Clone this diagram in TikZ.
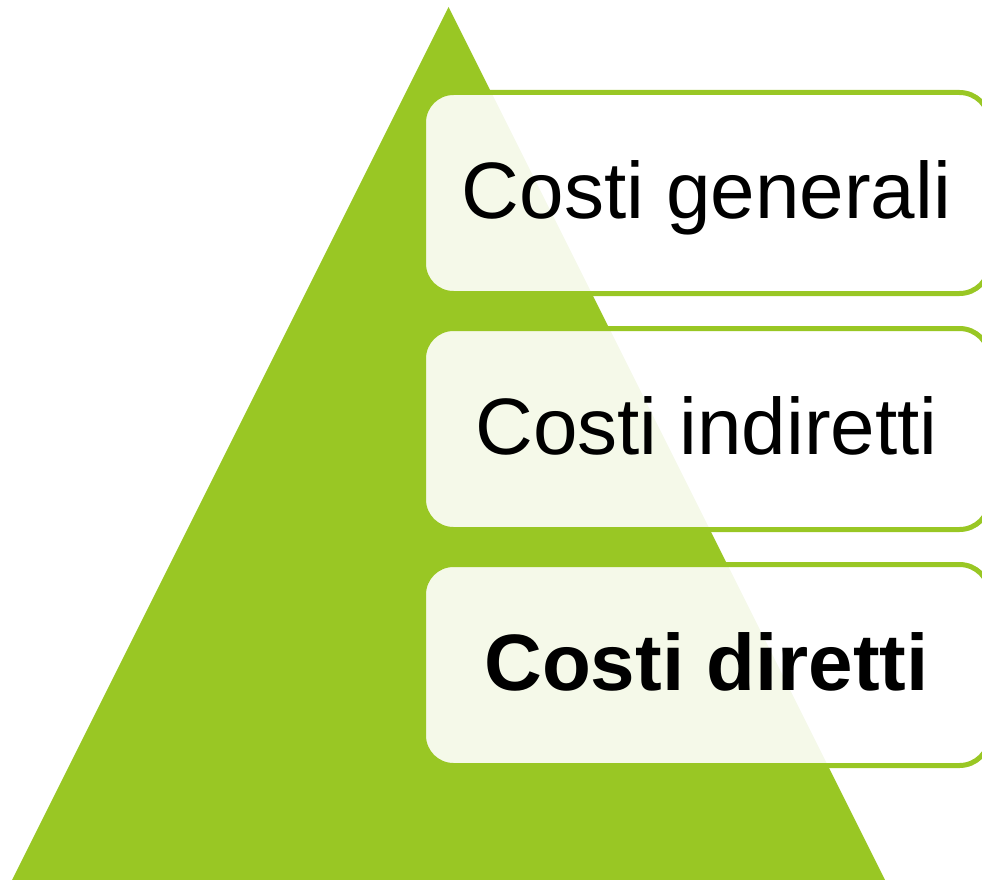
\documentclass[tikz,border=0pt]{standalone}
\usepackage{fontspec}
\setmainfont{Liberation Sans}
\usetikzlibrary{positioning}
\definecolor{pyrgreen}{HTML}{99C724}
\tikzset{
  costbox/.style={draw=pyrgreen, line width=5pt, fill=white, fill opacity=0.9,
    text opacity=1, rounded corners=30pt, minimum width=566pt, minimum height=201pt,
    inner sep=0pt, text height=50pt, text depth=0pt,
    font=\fontsize{80}{96}\selectfont},
}

\begin{document}
\begin{tikzpicture}[x=1pt,y=-1pt]
\useasboundingbox (0,0) rectangle (982,880);
\clip (0,0) rectangle (982,880);
\coordinate (apex) at (448.5,7);
\coordinate (baseL) at (12,880);
\coordinate (baseR) at (885,880);
\fill[pyrgreen] (apex)--(baseL)--(baseR)--cycle;

\node[costbox] (generali) at (706.5,193) {Costi generali};
\node[costbox, below=30pt of generali] (indiretti) {Costi indiretti};
\node[costbox, below=30pt of indiretti] (diretti) {\bfseries Costi diretti};
\end{tikzpicture}
\end{document}
